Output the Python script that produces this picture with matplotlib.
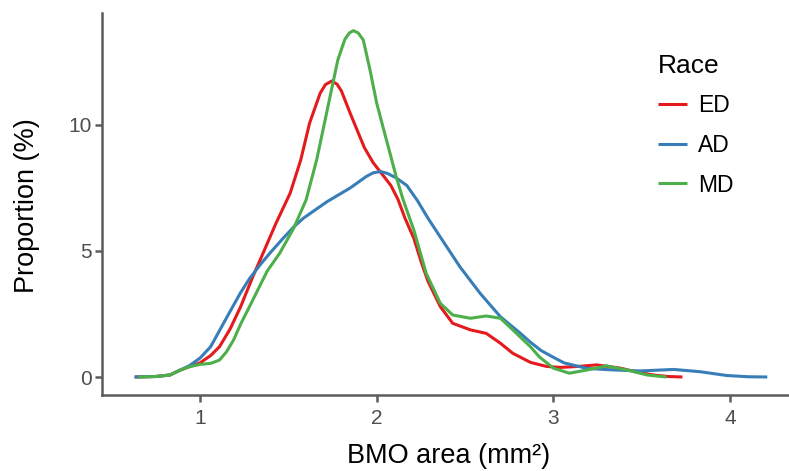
import matplotlib
matplotlib.use("Agg")
import matplotlib.pyplot as plt

plt.rcParams['font.family'] = ['Liberation Sans', 'DejaVu Sans']

# BMO area density curves
ed_x = [0.63, 0.75, 0.83, 0.89, 1.0, 1.06, 1.11, 1.17, 1.23, 1.30, 1.34, 1.43, 1.51, 1.57,
        1.62, 1.68, 1.71, 1.745, 1.775, 1.80, 1.85, 1.88, 1.93, 1.98, 2.03, 2.08, 2.12,
        2.16, 2.21, 2.25, 2.29, 2.36, 2.43, 2.53, 2.62, 2.70, 2.77, 2.87, 2.96, 3.04,
        3.14, 3.245, 3.38, 3.47, 3.565, 3.65, 3.73]
ed_y = [0, 0.02, 0.08, 0.28, 0.56, 0.85, 1.2, 1.9, 2.79, 4.0, 4.64, 6.1, 7.29, 8.61,
        10.07, 11.26, 11.6, 11.74, 11.62, 11.35, 10.46, 9.95, 9.1, 8.5, 8.05, 7.6, 7.05,
        6.3, 5.5, 4.6, 3.8, 2.79, 2.13, 1.87, 1.73, 1.34, 0.94, 0.58, 0.42, 0.38,
        0.42, 0.48, 0.35, 0.2, 0.08, 0.02, 0]

ad_x = [0.63, 0.75, 0.83, 0.89, 0.94, 1.0, 1.06, 1.17, 1.23, 1.28, 1.34, 1.40, 1.47, 1.53,
        1.585, 1.72, 1.85, 1.94, 1.98, 2.02, 2.06, 2.11, 2.17, 2.23, 2.29, 2.36, 2.47,
        2.585, 2.70, 2.81, 2.87, 2.93, 3.0, 3.06, 3.19, 3.34, 3.49, 3.68, 3.83, 3.98,
        4.1, 4.21]
ad_y = [0, 0.02, 0.08, 0.28, 0.45, 0.75, 1.2, 2.6, 3.35, 3.9, 4.45, 4.95, 5.5, 5.95,
        6.3, 6.96, 7.5, 7.95, 8.1, 8.15, 8.08, 7.9, 7.6, 7.0, 6.3, 5.55, 4.38,
        3.32, 2.39, 1.75, 1.38, 1.05, 0.78, 0.56, 0.34, 0.28, 0.24, 0.3, 0.21, 0.06,
        0.01, 0]

md_x = [0.65, 0.75, 0.83, 0.89, 0.94, 1.0, 1.06, 1.11, 1.15, 1.19, 1.23, 1.28, 1.38, 1.45,
        1.53, 1.60, 1.66, 1.70, 1.74, 1.78, 1.82, 1.845, 1.868, 1.895, 1.924, 1.962, 2.0,
        2.04, 2.075, 2.11, 2.15, 2.21, 2.28, 2.36, 2.43, 2.53, 2.62, 2.70, 2.77, 2.87,
        2.92, 3.0, 3.09, 3.19, 3.30, 3.415, 3.53, 3.64]
md_y = [0, 0.02, 0.08, 0.28, 0.41, 0.5, 0.54, 0.67, 1.0, 1.47, 2.1, 2.79, 4.2, 4.9,
        5.9, 7.02, 8.61, 9.93, 11.26, 12.58, 13.4, 13.65, 13.74, 13.65, 13.37, 12.18, 10.86,
        9.8, 8.88, 7.95, 7.02, 5.83, 4.11, 2.92, 2.46, 2.33, 2.42, 2.33, 1.87, 1.2,
        0.8, 0.35, 0.15, 0.28, 0.44, 0.28, 0.08, 0]

races = ['ED', 'AD', 'MD']
colors = ['#E41A1C', '#377EB8', '#4DAF4A']
x_ticks = [1, 2, 3, 4]
y_ticks = [0, 5, 10]

axis_col = '#5c5c5c'
tick_col = '#4D4D4D'

fig = plt.figure(figsize=(7.89, 4.71), dpi=100)
ax = fig.add_axes([102/789, 76/471, 687/789, 382/471])

for xs, ys, lab, col in zip([ed_x, ad_x, md_x], [ed_y, ad_y, md_y], races, colors):
    ax.plot(xs, ys, color=col, lw=2.2, label=lab, solid_capstyle='butt',
            solid_joinstyle='round')

ax.set_xlim(0.4454, 4.333)
ax.set_ylim(-0.714, 14.44)
ax.set_xticks(x_ticks)
ax.set_yticks(y_ticks)

for s in ['top', 'right']:
    ax.spines[s].set_visible(False)
for s in ['left', 'bottom']:
    ax.spines[s].set_color(axis_col)
    ax.spines[s].set_linewidth(1.8)
ax.tick_params(axis='both', colors=axis_col, width=1.8, length=5, labelcolor=tick_col, labelsize=15)
ax.tick_params(axis='x', pad=5)
ax.tick_params(axis='y', pad=2.5)

ax.set_xlabel('BMO area (mm²)', fontsize=19.5)
ax.set_ylabel('Proportion (%)', fontsize=19.5)
ax.xaxis.set_label_coords(0.505, -0.125)
ax.yaxis.set_label_coords(-0.0902, 0.497)

leg = ax.legend(title='Race', loc='upper left', bbox_to_anchor=(658/789, 1 - 54/471),
                bbox_transform=fig.transFigure, frameon=False, fontsize=16.5,
                title_fontsize=19, borderpad=0, borderaxespad=0, handlelength=1.27,
                handletextpad=0.48, labelspacing=0.72, alignment='left')

fig.savefig('out.png', dpi=100)
